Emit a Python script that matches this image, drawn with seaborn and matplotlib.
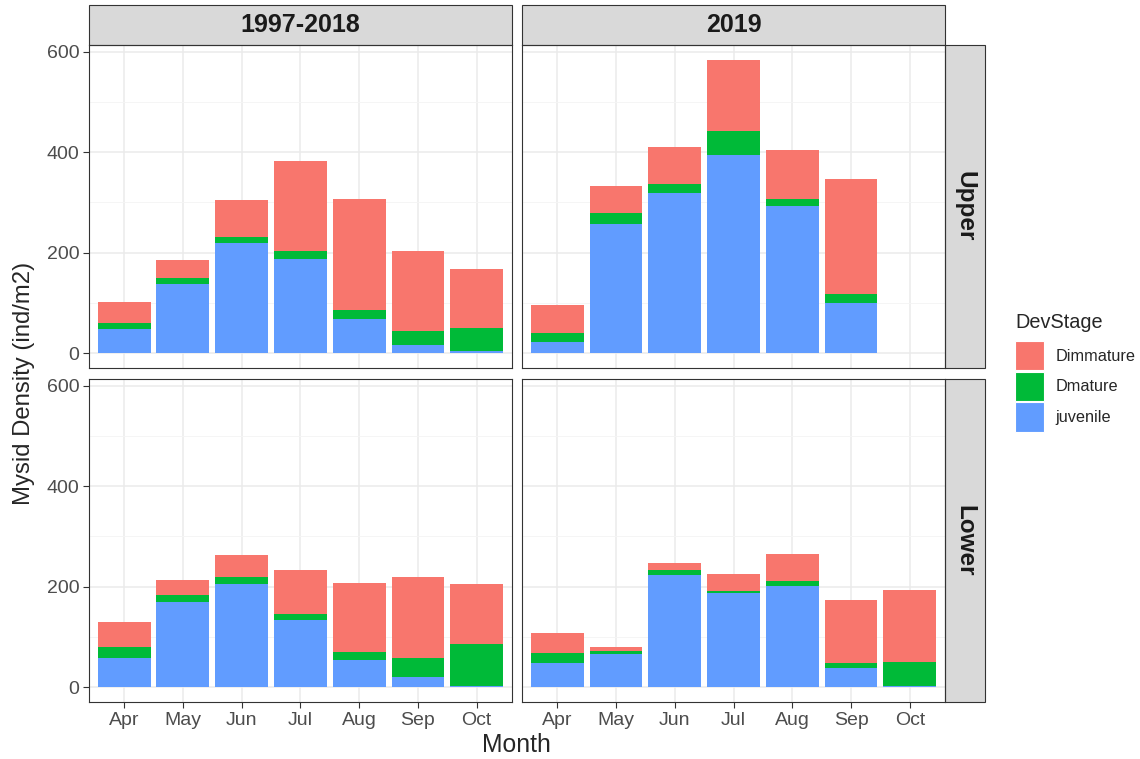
import pandas as pd
import numpy as np
import matplotlib
matplotlib.use('agg')
import matplotlib.pyplot as plt
from matplotlib.patches import Rectangle, Patch
import seaborn as sns

months = ['Apr', 'May', 'Jun', 'Jul', 'Aug', 'Sep', 'Oct']
stages = ['Dimmature', 'Dmature', 'juvenile']
periods = ['1997-2018', '2019']
reaches = ['Upper', 'Lower']
colors = {'Dimmature': '#F8766D', 'Dmature': '#00BA38', 'juvenile': '#619CFF'}

# mean density per stage (ind/m2), Apr..Oct; None = no sample
upper_hist_juv = [48, 137, 219, 188, 69, 17, 4]
upper_hist_dmat = [12, 12, 13, 15, 17, 27, 46]
upper_hist_dimm = [43, 37, 73, 179, 221, 159, 117]

upper_2019_juv = [23, 258, 318, 395, 294, 100, None]
upper_2019_dmat = [18, 22, 18, 47, 12, 18, None]
upper_2019_dimm = [55, 52, 75, 142, 98, 228, None]

lower_hist_juv = [58, 169, 206, 134, 55, 20, 3]
lower_hist_dmat = [22, 15, 14, 12, 15, 38, 84]
lower_hist_dimm = [49, 30, 43, 87, 137, 162, 119]

lower_2019_juv = [49, 66, 223, 188, 201, 38, 2]
lower_2019_dmat = [19, 7, 10, 4, 10, 11, 49]
lower_2019_dimm = [40, 7, 14, 34, 54, 125, 143]

series = {
    ('Upper', '1997-2018'): (upper_hist_juv, upper_hist_dmat, upper_hist_dimm),
    ('Upper', '2019'): (upper_2019_juv, upper_2019_dmat, upper_2019_dimm),
    ('Lower', '1997-2018'): (lower_hist_juv, lower_hist_dmat, lower_hist_dimm),
    ('Lower', '2019'): (lower_2019_juv, lower_2019_dmat, lower_2019_dimm),
}

rows = []
for (reach, period), (juv, dmat, dimm) in series.items():
    for i, m in enumerate(months):
        if juv[i] is None:
            continue
        for stage, vals in zip(['juvenile', 'Dmature', 'Dimmature'], [juv, dmat, dimm]):
            rows.append(dict(Reach=reach, Period=period, Month=m, DevStage=stage, Density=vals[i]))
df = pd.DataFrame(rows)

# cumulative heights for stacking (juvenile at the bottom)
df['stage_rank'] = df['DevStage'].map({'juvenile': 0, 'Dmature': 1, 'Dimmature': 2})
df = df.sort_values(['Reach', 'Period', 'Month', 'stage_rank'])
df['Top'] = df.groupby(['Reach', 'Period', 'Month'])['Density'].cumsum()

sns.set_theme(style='white')
plt.rcParams['font.family'] = ['Liberation Sans', 'DejaVu Sans']


def stacked(data, **kws):
    ax = plt.gca()
    for stage in stages:
        sub = data[data['DevStage'] == stage]
        sns.barplot(data=sub, x='Month', y='Top', order=months, color=colors[stage],
                    width=0.9, linewidth=0, saturation=1, errorbar=None, ax=ax, zorder=3)


g = sns.FacetGrid(df, row='Reach', col='Period', row_order=reaches, col_order=periods,
                  sharex=True, sharey=True, height=3.5, aspect=1.2, margin_titles=False)
g.map_dataframe(stacked)
g.figure.set_size_inches(11.4, 7.59)
g.figure.subplots_adjust(left=0.078, right=0.829, top=0.9407, bottom=0.0751,
                         wspace=10 / 423, hspace=11 / 323)
g.set_titles('')

for (ri, ci), ax in np.ndenumerate(g.axes):
    ax.set_xlim(-0.6, 6.6)
    ax.set_ylim(-29.2, 613.2)
    ax.set_yticks([0, 200, 400, 600])
    ax.set_yticks([100, 300, 500], minor=True)
    ax.grid(True, which='major', color='#EBEBEB', linewidth=1.1, zorder=0)
    ax.grid(True, which='minor', axis='y', color='#F4F4F4', linewidth=0.6, zorder=0)
    ax.set_axisbelow(True)
    for s in ax.spines.values():
        s.set_visible(True)
        s.set_color('#333333')
        s.set_linewidth(0.8)
    ax.tick_params(axis='both', which='major', length=4, width=0.8, color='#333333',
                   labelsize=14, labelcolor='#4D4D4D', pad=3, bottom=(ri == 1), left=(ci == 0))
    ax.tick_params(axis='both', which='minor', length=0)
    ax.set_xlabel('')
    ax.set_ylabel('')
    if ri == 0:
        ax.tick_params(labelbottom=False)
        h = 40 / 323
        ax.add_patch(Rectangle((0, 1), 1, h, transform=ax.transAxes, clip_on=False,
                               facecolor='#D9D9D9', edgecolor='#333333', linewidth=0.8))
        ax.text(0.5, 1 + h / 2, periods[ci], transform=ax.transAxes, ha='center', va='center',
                fontsize=18, fontweight='bold', color='#1A1A1A')
    if ci == 1:
        w = 40 / 423
        ax.add_patch(Rectangle((1, 0), w, 1, transform=ax.transAxes, clip_on=False,
                               facecolor='#D9D9D9', edgecolor='#333333', linewidth=0.8))
        ax.text(1 + w / 2, 0.5, reaches[ri], transform=ax.transAxes, ha='center', va='center',
                rotation=-90, fontsize=17.5, fontweight='bold', color='#1A1A1A')

g.figure.text(0.453, 0.018, 'Month', ha='center', va='center', fontsize=17.8)
g.figure.text(0.021, 0.495, 'Mysid Density (ind/m2)', ha='center', va='center',
              rotation=90, fontsize=17.2)

handles = [Patch(facecolor=colors[s], edgecolor='white', linewidth=0.8, label=s) for s in stages]
leg = g.figure.legend(handles=handles, title='DevStage', loc='upper left',
                      bbox_to_anchor=(1015 / 1140, 1 - 313 / 759), frameon=False, fontsize=11.7,
                      title_fontsize=14.3, handlelength=1.8, handleheight=2.4,
                      labelspacing=0.08, handletextpad=0.7, borderpad=0, borderaxespad=0)
leg._legend_box.align = 'left'
leg._legend_box.sep = 6.5

g.figure.savefig('out.png', dpi=100)
